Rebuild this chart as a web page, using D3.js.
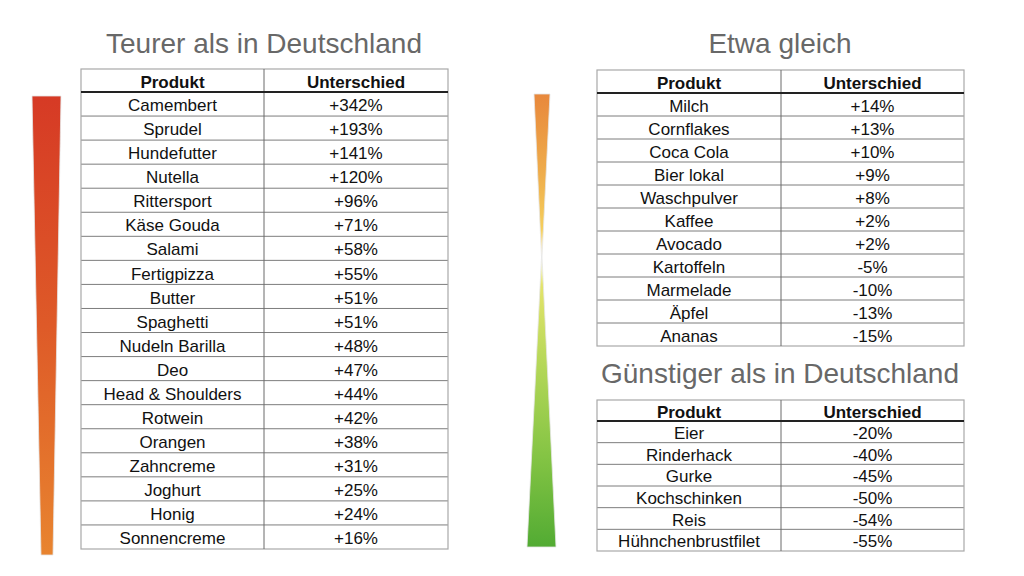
<!DOCTYPE html>
<html>
<head>
<meta charset="utf-8">
<script src="https://cdn.jsdelivr.net/npm/d3@7"></script>
<style>
  body { margin: 0; background: #fff; }
  svg { display: block; font-family: "Liberation Sans", Arial, Helvetica, sans-serif; }
</style>
</head>
<body>
<div id="chart"></div>
<script>
var header = ["Produkt", "Unterschied"];

var teurerProdukte = ["Camembert", "Sprudel", "Hundefutter", "Nutella", "Rittersport", "Käse Gouda",
  "Salami", "Fertigpizza", "Butter", "Spaghetti", "Nudeln Barilla", "Deo", "Head & Shoulders",
  "Rotwein", "Orangen", "Zahncreme", "Joghurt", "Honig", "Sonnencreme"];
var teurerWerte = [342, 193, 141, 120, 96, 71, 58, 55, 51, 51, 48, 47, 44, 42, 38, 31, 25, 24, 16];

var gleichProdukte = ["Milch", "Cornflakes", "Coca Cola", "Bier lokal", "Waschpulver", "Kaffee",
  "Avocado", "Kartoffeln", "Marmelade", "Äpfel", "Ananas"];
var gleichWerte = [14, 13, 10, 9, 8, 2, 2, -5, -10, -13, -15];

var guenstigerProdukte = ["Eier", "Rinderhack", "Gurke", "Kochschinken", "Reis", "Hühnchenbrustfilet"];
var guenstigerWerte = [-20, -40, -45, -50, -54, -55];

var titles = ["Teurer als in Deutschland", "Etwa gleich", "Günstiger als in Deutschland"];

var W = 1024, H = 576;
var svg = d3.select("#chart").append("svg").attr("width", W).attr("height", H);
var defs = svg.append("defs");

var fmt = function(v) { return (v > 0 ? "+" : "") + v + "%"; };

// gradients for the wedges
var g1 = defs.append("linearGradient").attr("id", "gRed").attr("x1", 0).attr("y1", 0).attr("x2", 0).attr("y2", 1);
g1.append("stop").attr("offset", 0).attr("stop-color", "#d63a25");
g1.append("stop").attr("offset", 0.5).attr("stop-color", "#de5a28");
g1.append("stop").attr("offset", 1).attr("stop-color", "#e8842f");

var g2 = defs.append("linearGradient").attr("id", "gMix").attr("x1", 0).attr("y1", 0).attr("x2", 0).attr("y2", 1);
[[0, "#e8883c"], [0.18, "#efae4c"], [0.3, "#f5cf5c"], [0.36, "#ffffff"], [0.42, "#e4e46a"],
 [0.6, "#b4d758"], [0.8, "#84c444"], [1, "#52ab33"]].forEach(function(s) {
  g2.append("stop").attr("offset", s[0]).attr("stop-color", s[1]);
});

// wedges
var line = d3.line();
svg.append("path")
  .attr("d", line([[32, 96], [61, 96], [53, 555], [41, 555]]) + "Z")
  .attr("fill", "url(#gRed)").attr("stroke", "#e6e6e6").attr("stroke-width", 0.8);
svg.append("path")
  .attr("d", line([[534, 94], [550, 94], [542, 257], [556, 547], [527, 547], [541.5, 257]]) + "Z")
  .attr("fill", "url(#gMix)").attr("stroke", "#e6e6e6").attr("stroke-width", 0.8);

function drawTable(produkte, werte, x0, x1, xm, top, headBottom, bottom) {
  var g = svg.append("g");
  var y = d3.scaleBand().domain(d3.range(produkte.length)).range([headBottom, bottom]);
  var cx = [(x0 + xm) / 2, (xm + x1) / 2];

  // header text
  g.selectAll("text.h").data(header).enter().append("text")
    .attr("x", function(d, i) { return cx[i]; })
    .attr("y", (top + headBottom) / 2)
    .attr("dy", "0.42em")
    .attr("text-anchor", "middle")
    .attr("font-size", 17).attr("font-weight", "bold").attr("fill", "#111")
    .text(function(d) { return d; });

  // row lines
  g.selectAll("line.r").data(d3.range(1, produkte.length)).enter().append("line")
    .attr("x1", x0).attr("x2", x1)
    .attr("y1", function(i) { return y(i); }).attr("y2", function(i) { return y(i); })
    .attr("stroke", "#7d7d7d").attr("stroke-width", 1);

  // outer border + divider
  g.append("rect").attr("x", x0).attr("y", top).attr("width", x1 - x0).attr("height", bottom - top)
    .attr("fill", "none").attr("stroke", "#a8a8a8").attr("stroke-width", 1.2);
  g.append("line").attr("x1", xm).attr("x2", xm).attr("y1", top).attr("y2", bottom)
    .attr("stroke", "#6a6a6a").attr("stroke-width", 1);
  g.append("line").attr("x1", x0).attr("x2", x1).attr("y1", headBottom).attr("y2", headBottom)
    .attr("stroke", "#222").attr("stroke-width", 2);

  var rows = g.selectAll("g.row").data(produkte).enter().append("g")
    .attr("transform", function(d, i) { return "translate(0," + (y(i) + y.bandwidth() / 2) + ")"; });
  rows.append("text").attr("x", cx[0]).attr("dy", "0.42em").attr("text-anchor", "middle")
    .attr("font-size", 17).attr("fill", "#111").text(function(d) { return d; });
  rows.append("text").attr("x", cx[1]).attr("dy", "0.42em").attr("text-anchor", "middle")
    .attr("font-size", 17).attr("fill", "#111").text(function(d, i) { return fmt(werte[i]); });
}

drawTable(teurerProdukte, teurerWerte, 81, 448, 264, 69, 92, 549);
drawTable(gleichProdukte, gleichWerte, 597, 964, 781, 70, 93, 346);
drawTable(guenstigerProdukte, guenstigerWerte, 597, 964, 781, 400, 421, 551);

// titles
var titlePos = [[264, 53], [780, 53], [780, 383]];
svg.selectAll("text.title").data(titles).enter().append("text")
  .attr("x", function(d, i) { return titlePos[i][0]; })
  .attr("y", function(d, i) { return titlePos[i][1]; })
  .attr("text-anchor", "middle")
  .attr("font-size", 28).attr("fill", "#686868")
  .text(function(d) { return d; });
</script>
</body>
</html>
